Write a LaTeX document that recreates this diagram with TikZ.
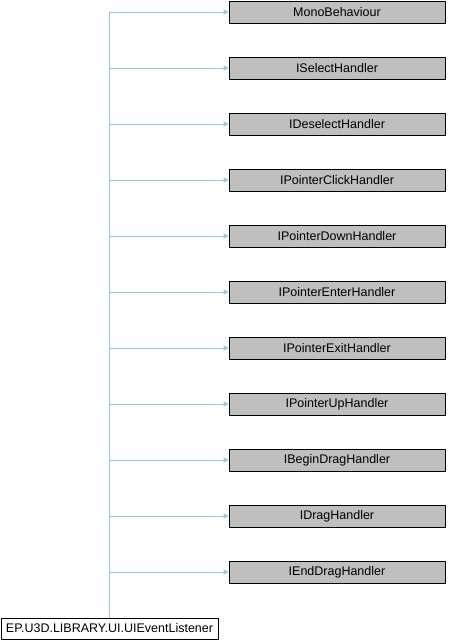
\documentclass[tikz,border=0pt]{standalone}
\usepackage{fontspec}
\setmainfont{Liberation Sans}
\usetikzlibrary{arrows.meta}
\definecolor{boxgray}{HTML}{BFBFBF}
\definecolor{edgeblue}{HTML}{94C8E6}
\begin{document}
\begin{tikzpicture}[x=1pt, y=-1pt, font=\fontsize{12.5}{14}\selectfont, line join=round,
	base/.style={draw=black, fill=boxgray, line width=0.8pt, inner sep=0pt, minimum width=216pt, minimum height=22pt},
	edge/.style={draw=edgeblue, line width=0.8pt, -{Triangle[length=5pt,width=5pt]}}]
	\useasboundingbox (0,0) rectangle (448,640);
	\node[draw=black, fill=white, line width=0.8pt, inner sep=0pt, minimum width=217pt, minimum height=21pt] (listener) at (109.5,628.5) {EP.U3D.LIBRARY.UI.UIEventListener};
	\foreach \name [count=\i from 0] in {MonoBehaviour, ISelectHandler, IDeselectHandler, IPointerClickHandler, IPointerDownHandler, IPointerEnterHandler, IPointerExitHandler, IPointerUpHandler, IBeginDragHandler, IDragHandler, IEndDragHandler}{
		\node[base] (b\i) at (337,{12+56*\i}) {\name};
		\draw[edge] (listener.north) |- (b\i.west);
	}
\end{tikzpicture}
\end{document}
